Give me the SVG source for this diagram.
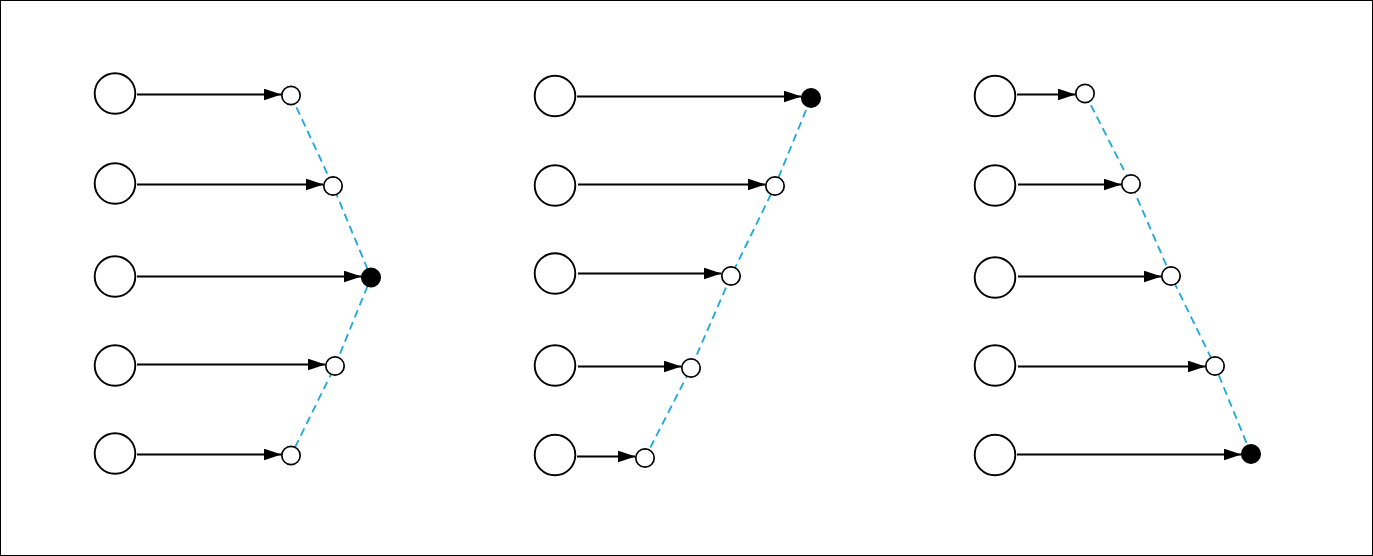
<svg xmlns="http://www.w3.org/2000/svg" width="1373" height="556" viewBox="0 0 1373 556">
<defs>
<marker id="arr" markerUnits="userSpaceOnUse" markerWidth="18" markerHeight="12" refX="18" refY="6" viewBox="0 0 18 12" orient="auto">
<path d="M0,0 L18,6 L0,12 z" fill="#000"/>
</marker>
</defs>
<style>
.big{fill:#fff;stroke:#000;stroke-width:1.9}
.sm{fill:#fff;stroke:#000;stroke-width:1.7}
.on{fill:#000;stroke:#000;stroke-width:1.7}
.edge{stroke:#000;stroke-width:1.8;fill:none;marker-end:url(#arr)}
.dash{stroke:#1aa9da;stroke-width:1.8;fill:none;stroke-dasharray:8 5}
</style>
<rect x="0.5" y="0.5" width="1372" height="555" fill="#fff" stroke="#000" stroke-width="1"/>
<g id="connectors">
<polyline class="dash" points="291,95.5 333,186 371,277.5 335,366 291,455.5"/>
<polyline class="dash" points="811,98 775,186 731,276 691,368 645,458"/>
<polyline class="dash" points="1085,93.5 1131,184 1171,276 1215,366 1251,454"/>
<line class="edge" x1="137" y1="94.5" x2="281.5" y2="94.5"/>
<line class="edge" x1="137" y1="184.5" x2="323.5" y2="184.5"/>
<line class="edge" x1="137" y1="276.5" x2="361.5" y2="276.5"/>
<line class="edge" x1="137" y1="364.5" x2="325.5" y2="364.5"/>
<line class="edge" x1="137" y1="454.5" x2="281.5" y2="454.5"/>
<line class="edge" x1="577" y1="96.5" x2="801.5" y2="96.5"/>
<line class="edge" x1="578" y1="184.5" x2="765.5" y2="184.5"/>
<line class="edge" x1="578" y1="273.5" x2="721.5" y2="273.5"/>
<line class="edge" x1="578" y1="366.5" x2="681.5" y2="366.5"/>
<line class="edge" x1="577" y1="456.5" x2="635.5" y2="456.5"/>
<line class="edge" x1="1017" y1="94.5" x2="1075.5" y2="94.5"/>
<line class="edge" x1="1018" y1="184.5" x2="1121.5" y2="184.5"/>
<line class="edge" x1="1018" y1="276.5" x2="1161.5" y2="276.5"/>
<line class="edge" x1="1018" y1="366.5" x2="1205.5" y2="366.5"/>
<line class="edge" x1="1017" y1="454.5" x2="1241.5" y2="454.5"/>
</g>
<g id="p1-s1"><circle class="big" cx="115" cy="93.5" r="20.3"/></g>
<g id="p1-s2"><circle class="big" cx="115" cy="183.5" r="20.3"/></g>
<g id="p1-s3"><circle class="big" cx="115" cy="276.5" r="20.3"/></g>
<g id="p1-s4"><circle class="big" cx="115" cy="365.5" r="20.3"/></g>
<g id="p1-s5"><circle class="big" cx="115" cy="453.5" r="20.3"/></g>
<g id="p1-t1"><circle class="sm" cx="291" cy="95.5" r="9.2"/></g>
<g id="p1-t2"><circle class="sm" cx="333" cy="186" r="9.2"/></g>
<g id="p1-t3"><circle class="on" cx="371" cy="277.5" r="9.2"/></g>
<g id="p1-t4"><circle class="sm" cx="335" cy="366" r="9.2"/></g>
<g id="p1-t5"><circle class="sm" cx="291" cy="455.5" r="9.2"/></g>
<g id="p2-s1"><circle class="big" cx="555" cy="96" r="20.3"/></g>
<g id="p2-s2"><circle class="big" cx="555" cy="185.5" r="20.3"/></g>
<g id="p2-s3"><circle class="big" cx="555" cy="273.5" r="20.3"/></g>
<g id="p2-s4"><circle class="big" cx="555" cy="365.5" r="20.3"/></g>
<g id="p2-s5"><circle class="big" cx="555" cy="455" r="20.3"/></g>
<g id="p2-t1"><circle class="on" cx="811" cy="98" r="9.2"/></g>
<g id="p2-t2"><circle class="sm" cx="775" cy="186" r="9.2"/></g>
<g id="p2-t3"><circle class="sm" cx="731" cy="276" r="9.2"/></g>
<g id="p2-t4"><circle class="sm" cx="691" cy="368" r="9.2"/></g>
<g id="p2-t5"><circle class="sm" cx="645" cy="458" r="9.2"/></g>
<g id="p3-s1"><circle class="big" cx="995" cy="96" r="20.3"/></g>
<g id="p3-s2"><circle class="big" cx="995" cy="185.5" r="20.3"/></g>
<g id="p3-s3"><circle class="big" cx="995" cy="277.5" r="20.3"/></g>
<g id="p3-s4"><circle class="big" cx="995" cy="365.5" r="20.3"/></g>
<g id="p3-s5"><circle class="big" cx="995" cy="455" r="20.3"/></g>
<g id="p3-t1"><circle class="sm" cx="1085" cy="93.5" r="9.2"/></g>
<g id="p3-t2"><circle class="sm" cx="1131" cy="184" r="9.2"/></g>
<g id="p3-t3"><circle class="sm" cx="1171" cy="276" r="9.2"/></g>
<g id="p3-t4"><circle class="sm" cx="1215" cy="366" r="9.2"/></g>
<g id="p3-t5"><circle class="on" cx="1251" cy="454" r="9.2"/></g>
</svg>
